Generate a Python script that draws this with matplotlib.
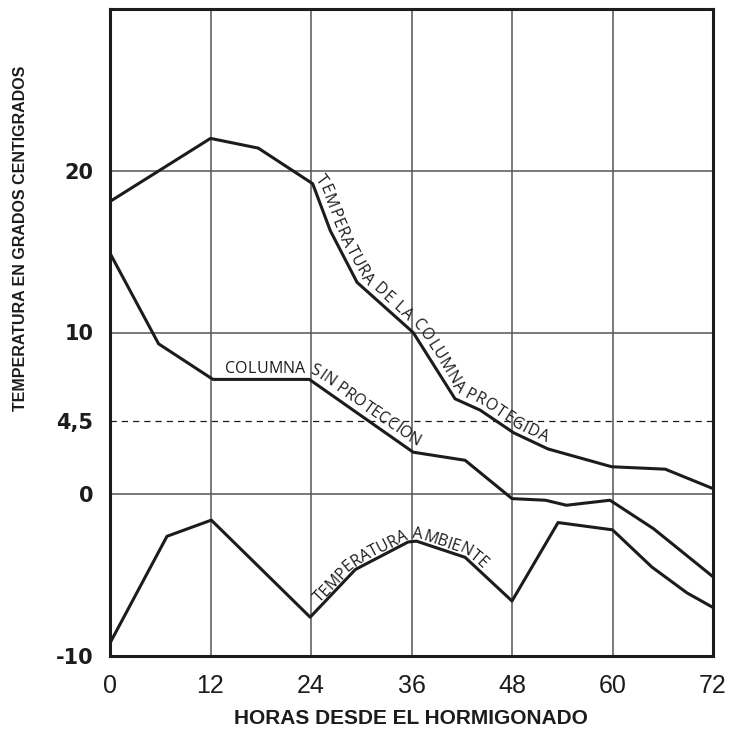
import numpy as np
import matplotlib
matplotlib.use("Agg")
import matplotlib.pyplot as plt
from matplotlib.font_manager import FontProperties, findfont, get_font

# ejes
horas = [0, 12, 24, 36, 48, 60, 72]
temp_ticks = [-10, 0, 4.5, 10, 20]
temp_labels = ["-10", "0", "4,5", "10", "20"]

# temperatura de la columna protegida
horas_protegida = [0, 12, 17.7, 24.2, 26.3, 29.5, 36.2, 41.2, 44.2, 48.2, 52.3, 59.9, 66.3, 72]
temp_protegida = [18.1, 22.0, 21.4, 19.2, 16.3, 13.1, 10.0, 5.9, 5.2, 3.8, 2.8, 1.7, 1.55, 0.35]

# columna sin proteccion
horas_sin = [0, 5.8, 12.3, 23.8, 36.2, 42.4, 48, 52, 54.5, 59.7, 64.9, 72]
temp_sin = [14.9, 9.3, 7.1, 7.1, 2.6, 2.1, -0.27, -0.37, -0.68, -0.37, -2.13, -5.1]

# temperatura ambiente
horas_amb = [0, 6.8, 12.1, 23.9, 29.3, 35.6, 36.6, 42.4, 48, 53.5, 60, 64.7, 68.9, 72]
temp_amb = [-9.2, -2.6, -1.6, -7.6, -4.65, -2.95, -2.9, -3.9, -6.6, -1.75, -2.2, -4.5, -6.1, -7.0]

negro = "#1c1c1c"
gris = "#555555"


def texto_en_curva(ax, xs, ys, texto, x0, sep, fp, extra=0.0, ventana=10):
    # coloca cada letra siguiendo una paralela a la curva (en pixeles)
    pts = ax.transData.transform(np.column_stack([xs, ys]))
    d = np.diff(pts, axis=0)
    d = d / np.hypot(d[:, 0], d[:, 1])[:, None]
    nrm = np.column_stack([-d[:, 1], d[:, 0]])
    off = np.empty_like(pts)
    off[0] = pts[0] + sep * nrm[0]
    off[-1] = pts[-1] + sep * nrm[-1]
    for i in range(1, len(pts) - 1):
        m = nrm[i - 1] + nrm[i]
        m = m / np.hypot(*m)
        off[i] = pts[i] + m * sep / np.dot(m, nrm[i])
    dist = np.concatenate([[0], np.cumsum(np.hypot(*np.diff(off, axis=0).T))])
    font = get_font(findfont(fp))
    font.set_size(fp.get_size_in_points(), ax.figure.dpi)
    inv = ax.transData.inverted()
    s = np.interp(x0, inv.transform(off)[:, 0], dist)
    for ch in texto:
        w = font.load_char(ord(ch)).linearHoriAdvance / 65536 + extra
        c = s + w / 2
        xa = np.interp([c - ventana, c + ventana], dist, off[:, 0])
        ya = np.interp([c - ventana, c + ventana], dist, off[:, 1])
        ang = np.degrees(np.arctan2(ya[1] - ya[0], xa[1] - xa[0]))
        px = np.interp(c, dist, off[:, 0])
        py = np.interp(c, dist, off[:, 1])
        if ch != " ":
            xd, yd = inv.transform((px, py))
            ax.text(xd, yd, ch, fontproperties=fp, rotation=ang,
                    rotation_mode="anchor", ha="center", va="baseline", color=negro)
        s += w


fig = plt.figure(figsize=(7.29, 7.42), dpi=100)
ax = fig.add_axes([110 / 729, 86 / 742, 603 / 729, 647 / 742])
ax.set_xlim(0, 72)
ax.set_ylim(-10, 30)

for h in horas[1:-1]:
    ax.axvline(h, color=gris, lw=1.1, zorder=1)
for t in temp_ticks:
    if t == 4.5:
        ax.axhline(t, color=negro, lw=0.9, ls=(0, (5, 4)), zorder=1)
    elif t > -10:
        ax.axhline(t, color=gris, lw=1.1, zorder=1)

ax.plot(horas_protegida, temp_protegida, color=negro, lw=2.2, zorder=3)
ax.plot(horas_sin, temp_sin, color=negro, lw=2.2, zorder=3)
ax.plot(horas_amb, temp_amb, color=negro, lw=2.2, zorder=3)

for sp in ax.spines.values():
    sp.set_linewidth(2.2)
    sp.set_color(negro)

ax.set_xticks(horas)
ax.set_xticklabels([str(h) for h in horas], fontsize=18, color=negro,
                   family=["Liberation Sans", "DejaVu Sans"])
ax.set_yticks(temp_ticks)
ax.set_yticklabels(temp_labels, fontsize=15, fontweight="bold", color=negro)
ax.tick_params(axis="x", length=0, pad=13)
ax.tick_params(axis="y", length=0, pad=12)

fp = FontProperties(family="Open Sans", size=11.5)
texto_en_curva(ax, horas_protegida, temp_protegida,
               "TEMPERATURA DE LA COLUMNA PROTEGIDA", 24.4, 5, fp, extra=0.9, ventana=14)
texto_en_curva(ax, horas_sin, temp_sin, "COLUMNA SIN PROTECCION", 13.7, 6, fp, extra=0.2)
texto_en_curva(ax, horas_amb, temp_amb, "TEMPERATURA AMBIENTE", 25.0, 3, fp, ventana=12)

fig.text(411 / 729, 1 - 718 / 742, "HORAS DESDE EL HORMIGONADO", ha="center", va="center",
         fontsize=15, fontweight="bold", color=negro, family=["Liberation Sans", "DejaVu Sans"])
fig.text(21 / 729, 1 - 238 / 742, "TEMPERATURA EN GRADOS CENTIGRADOS", ha="center", va="center",
         rotation=90, fontsize=11.5, fontweight="bold", color=negro,
         family=["Liberation Sans", "DejaVu Sans"])

fig.savefig("out.png", dpi=100)
